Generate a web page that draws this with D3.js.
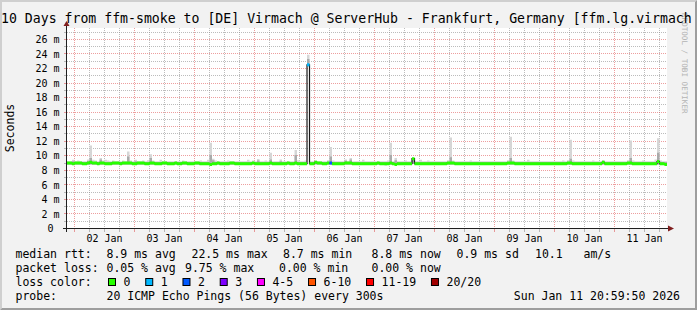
<!DOCTYPE html>
<html>
<head>
<meta charset="utf-8">
<script src="https://cdn.jsdelivr.net/npm/d3@7"></script>
<style>
  body { margin: 0; background: #f2f2f2; }
  svg { display: block; }
  text { font-family: "DejaVu Sans Mono", monospace; white-space: pre; fill: #000; }
</style>
</head>
<body>
<div id="vis"></div>
<script>
// hourly medians (ms), Jan 1 21:00 .. Jan 11 20:00
var median = [
  9.0,9.0,8.9,9.0,9.0,9.0,8.9,8.9,9.0,9.1,9.0,9.0,8.9,9.0,9.0,8.9,8.9,8.9,9.0,9.0,9.0,8.9,9.0,9.0,
  9.0,9.0,8.9,8.9,9.0,9.0,9.0,8.9,8.9,9.0,9.0,8.9,8.9,8.9,9.0,9.0,8.9,8.9,8.9,9.0,8.9,8.9,9.0,9.0,
  8.9,8.9,8.9,9.0,9.0,8.9,8.9,8.9,8.9,8.8,8.9,8.9,9.0,8.9,8.9,8.9,8.9,9.0,9.0,8.9,8.9,8.9,8.9,8.9,
  8.9,8.9,9.0,8.9,8.9,8.9,8.9,8.9,8.9,9.0,8.9,8.9,8.9,8.9,8.9,8.9,9.0,8.9,8.9,9.0,8.9,8.9,8.9,8.9,
  22.5,8.9,8.9,9.1,9.0,9.0,8.9,8.9,9.0,9.0,8.9,8.9,8.9,8.9,8.9,9.0,9.0,9.0,8.9,8.9,8.9,8.9,8.9,8.9,
  8.9,8.9,8.9,8.9,9.0,8.9,8.9,8.9,8.9,9.0,8.9,8.8,8.9,8.9,8.9,8.9,8.9,8.9,9.6,8.9,8.9,8.9,8.9,8.9,
  8.9,8.9,8.9,8.9,8.9,8.9,8.9,8.9,9.0,9.0,9.0,8.9,8.9,8.9,8.9,8.9,8.9,8.9,8.9,8.9,8.9,8.9,8.9,8.9,
  8.9,8.9,8.9,8.9,8.9,8.9,8.9,8.9,9.0,9.0,9.0,8.9,8.9,8.9,8.9,8.9,8.9,8.9,8.9,8.9,8.9,8.9,8.9,8.9,
  8.9,8.9,8.9,8.9,8.9,8.9,8.9,8.9,9.0,9.0,8.9,8.9,8.9,8.9,8.9,8.9,8.9,8.9,8.9,8.9,8.9,8.9,9.1,8.9,
  8.9,8.9,8.9,8.9,8.9,8.9,8.9,8.9,9.0,9.0,8.9,8.9,8.9,8.9,8.9,8.9,8.9,8.9,8.9,8.9,9.2,8.9,8.9,8.8
];
// smoke: slowest ping per hour
var smokeMax = [
  9.25,9.25,9.45,9.25,9.35,9.25,9.25,9.25,9.5,11.4,9.45,9.35,9.25,9.7,9.35,9.45,9.35,9.25,9.35,9.25,9.25,9.25,9.35,9.25,
  10.6,9.35,9.25,9.45,9.25,9.25,9.35,9.25,9.4,10.2,9.35,9.25,9.25,9.45,9.25,9.25,9.25,9.25,9.25,9.25,9.25,9.25,9.35,9.25,
  9.25,9.25,9.25,9.25,9.25,9.35,9.25,9.25,9.45,11.8,9.6,9.35,9.25,9.25,9.25,9.25,9.35,9.25,9.25,9.25,9.25,9.25,9.25,9.25,
  9.45,9.25,9.35,9.25,9.55,9.25,9.25,9.35,9.25,10.4,9.25,9.25,9.25,9.5,9.25,9.25,9.25,9.25,9.25,10.8,9.4,9.25,9.25,9.35,
  23.9,9.25,9.25,9.35,9.25,9.25,9.25,9.25,9.4,11.2,9.35,9.25,9.25,9.25,9.25,9.5,9.25,9.7,9.25,9.25,9.25,9.25,9.45,9.25,
  9.25,9.25,9.25,9.25,9.25,9.25,9.25,9.25,9.35,11.8,9.25,9.7,9.25,9.25,9.25,9.35,9.25,9.25,9.7,9.25,9.25,9.45,9.25,9.25,
  9.35,9.25,9.25,9.25,9.25,9.25,9.25,9.25,9.4,12.5,9.35,9.25,9.25,9.25,9.25,9.25,9.25,9.35,9.25,9.25,9.25,9.25,9.25,9.25,
  9.25,9.25,9.25,9.25,9.25,9.25,9.25,9.25,9.4,12.6,9.35,9.25,9.25,9.25,9.25,9.25,9.45,9.25,9.25,9.25,9.25,9.25,9.25,9.25,
  9.25,9.25,9.25,9.25,9.25,9.25,9.35,9.25,9.4,12.2,9.35,9.25,9.25,9.25,9.25,9.25,9.25,9.25,9.35,9.25,9.25,9.25,9.35,9.25,
  9.25,9.25,9.25,9.25,9.25,9.25,9.25,9.25,9.4,12.1,9.35,9.25,9.25,9.25,9.35,9.25,9.25,9.25,9.25,9.5,12.4,9.35,9.25,9.25
];
// smoke: upper edge of the dense part
var smokeMid = [
  9.15,9.15,9.25,9.15,9.15,9.15,9.15,9.15,9.25,9.7,9.15,9.15,9.15,9.5,9.15,9.15,9.15,9.15,9.15,9.15,9.15,9.15,9.15,9.15,
  9.9,9.15,9.15,9.25,9.15,9.15,9.15,9.15,9.15,9.7,9.15,9.15,9.15,9.15,9.15,9.15,9.15,9.15,9.15,9.15,9.15,9.15,9.15,9.15,
  9.15,9.15,9.15,9.15,9.15,9.15,9.15,9.15,9.15,10.1,9.4,9.15,9.15,9.15,9.15,9.15,9.15,9.15,9.15,9.15,9.15,9.15,9.15,9.15,
  9.15,9.15,9.15,9.15,9.35,9.15,9.15,9.15,9.15,9.5,9.15,9.15,9.15,9.25,9.15,9.15,9.15,9.15,9.15,10.1,9.15,9.15,9.15,9.15,
  23.3,9.15,9.15,9.25,9.15,9.15,9.15,9.15,9.15,9.9,9.15,9.15,9.15,9.15,9.15,9.3,9.15,9.5,9.15,9.15,9.15,9.15,9.15,9.15,
  9.15,9.15,9.15,9.15,9.15,9.15,9.15,9.15,9.15,10.1,9.15,9.4,9.15,9.15,9.15,9.15,9.15,9.15,9.7,9.15,9.15,9.15,9.15,9.15,
  9.15,9.15,9.15,9.15,9.15,9.15,9.15,9.15,9.15,9.8,9.15,9.15,9.15,9.15,9.15,9.15,9.15,9.15,9.15,9.15,9.15,9.15,9.15,9.15,
  9.15,9.15,9.15,9.15,9.15,9.15,9.15,9.15,9.15,9.7,9.15,9.15,9.15,9.15,9.15,9.15,9.15,9.15,9.15,9.15,9.15,9.15,9.15,9.15,
  9.15,9.15,9.15,9.15,9.15,9.15,9.15,9.15,9.15,9.6,9.15,9.15,9.15,9.15,9.15,9.15,9.15,9.15,9.15,9.15,9.15,9.15,9.3,9.15,
  9.15,9.15,9.15,9.15,9.15,9.15,9.15,9.15,9.15,9.7,9.15,9.15,9.15,9.15,9.15,9.15,9.15,9.15,9.15,9.15,10.4,9.15,9.15,9.15
];
// smoke: fastest ping per hour
var smokeMin = [
  8.8,8.8,8.8,8.8,8.8,8.8,8.8,8.8,8.8,8.8,8.8,8.8,8.8,8.8,8.8,8.8,8.8,8.8,8.8,8.8,8.8,8.8,8.8,8.8,
  8.8,8.8,8.8,8.8,8.8,8.8,8.8,8.8,8.8,8.8,8.8,8.8,8.8,8.8,8.8,8.8,8.8,8.8,8.8,8.8,8.8,8.8,8.8,8.8,
  8.8,8.8,8.8,8.8,8.8,8.8,8.8,8.8,8.8,8.7,8.8,8.8,8.8,8.8,8.8,8.8,8.8,8.8,8.8,8.8,8.8,8.8,8.8,8.8,
  8.8,8.8,8.8,8.8,8.8,8.8,8.8,8.8,8.8,8.8,8.8,8.8,8.8,8.8,8.8,8.8,8.8,8.8,8.8,8.8,8.8,8.8,8.8,8.8,
  22.3,8.8,8.8,8.8,8.8,8.8,8.8,8.8,8.8,8.8,8.8,8.8,8.8,8.8,8.8,8.8,8.8,8.8,8.8,8.8,8.8,8.8,8.8,8.8,
  8.8,8.8,8.8,8.8,8.8,8.8,8.8,8.7,8.8,8.8,8.8,8.8,8.8,8.8,8.8,8.8,8.8,8.8,8.9,8.8,8.8,8.8,8.8,8.8,
  8.8,8.8,8.8,8.8,8.8,8.8,8.8,8.8,8.8,8.8,8.8,8.8,8.8,8.8,8.8,8.8,8.8,8.8,8.8,8.8,8.8,8.8,8.8,8.8,
  8.8,8.8,8.8,8.8,8.8,8.8,8.8,8.8,8.8,8.8,8.8,8.8,8.8,8.8,8.8,8.8,8.8,8.8,8.8,8.8,8.8,8.8,8.8,8.8,
  8.8,8.8,8.8,8.8,8.8,8.8,8.8,8.8,8.8,8.8,8.8,8.8,8.8,8.8,8.8,8.8,8.8,8.8,8.8,8.8,8.8,8.8,8.8,8.8,
  8.8,8.8,8.8,8.8,8.8,8.8,8.8,8.8,8.8,8.8,8.8,8.8,8.8,8.8,8.8,8.8,8.8,8.8,8.8,8.8,8.8,8.8,8.8,8.7
];
// hours with lost pings (index into the hourly arrays) and pings lost out of 20
var lossHours = [96, 105];
var lossCounts = [1, 2];

var lossLabels = ['0', '1', '2', '3', '4-5', '6-10', '11-19', '20/20'];
var lossColors = ['#26ff00', '#00b8ff', '#0059ff', '#7e00ff', '#ff00ff', '#ff5500', '#ff0000', '#a10000'];

var statRtt = ['8.9 ms avg', '22.5 ms max', '8.7 ms min', '8.8 ms now', '0.9 ms sd', '10.1   am/s'];
var statLoss = ['0.05 % avg', '9.75 % max', '0.00 % min', '0.00 % now'];
var probeText = '20 ICMP Echo Pings (56 Bytes) every 300s';
var stampText = 'Sun Jan 11 20:59:50 2026';
var titleText = '10 Days from ffm-smoke to [DE] Virmach @ ServerHub - Frankfurt, Germany [ffm.lg.virmach';

var W = 697, H = 310;
var plotL = 67, plotR = 667, plotT = 28, plotB = 228.5;

var startT = new Date(2026, 0, 1, 20, 59, 50);
var endT = new Date(2026, 0, 11, 20, 59, 50);
var firstHour = new Date(2026, 0, 1, 21, 0, 0);

var x = d3.scaleTime().domain([startT, endT]).range([plotL, plotR]);
var y = d3.scaleLinear().domain([0, 27.5]).range([plotB, plotB - 200]);

function bucket(n) {
  if (n <= 3) return n;
  if (n <= 5) return 4;
  if (n <= 10) return 5;
  if (n <= 19) return 6;
  return 7;
}

var pts = median.map(function (m, i) {
  return { t: d3.timeHour.offset(firstHour, i), t1: d3.timeHour.offset(firstHour, i + 1),
           med: m, lo: smokeMin[i], mid: smokeMid[i], hi: smokeMax[i], loss: 0 };
});
lossHours.forEach(function (h, j) { pts[h].loss = lossCounts[j]; });
var last = pts[pts.length - 1];
var stepPts = pts.concat([{ t: last.t1, med: last.med, lo: last.lo, mid: last.mid, hi: last.hi }]);

var svg = d3.select('#vis').append('svg').attr('width', W).attr('height', H);

// background + 3d border
svg.append('rect').attr('width', W).attr('height', H).attr('fill', '#f2f2f2');
svg.append('polygon').attr('fill', '#cfcfcf')
  .attr('points', [[0,0],[0,H],[2,H-2],[2,2],[W-2,2],[W,0]].join(' '));
svg.append('polygon').attr('fill', '#9e9e9e')
  .attr('points', [[0,H],[W,H],[W,0],[W-2,2],[W-2,H-2],[2,H-2]].join(' '));

// canvas
svg.append('rect').attr('x', plotL).attr('y', plotT).attr('width', plotR - plotL).attr('height', plotB - plotT)
  .attr('fill', '#fff');

svg.append('clipPath').attr('id', 'plot').append('rect')
  .attr('x', plotL).attr('y', plotT).attr('width', plotR - plotL).attr('height', plotB - plotT);

function crisp(v) { return Math.round(v - 0.5) + 0.5; }

// grid
var grid = svg.append('g').attr('shape-rendering', 'crispEdges');
var minorT = d3.timeHour.every(6).range(startT, endT).filter(function (d) { return d.getHours() !== 0; });
var majorT = d3.timeDay.range(startT, endT);
var yMinor = d3.range(1, 28).filter(function (v) { return v % 2; });
var yMajor = d3.range(2, 28, 2);

var minorCol = 'rgba(143,143,143,0.6)', majorCol = 'rgba(222,79,79,0.55)';

grid.selectAll('.vmin').data(minorT).enter().append('line')
  .attr('x1', function (d) { return crisp(x(d)); }).attr('x2', function (d) { return crisp(x(d)); })
  .attr('y1', plotT).attr('y2', plotB).attr('stroke', minorCol).attr('stroke-dasharray', '1,1');
grid.selectAll('.hmin').data(yMinor).enter().append('line')
  .attr('y1', function (d) { return crisp(y(d)); }).attr('y2', function (d) { return crisp(y(d)); })
  .attr('x1', plotL).attr('x2', plotR).attr('stroke', minorCol).attr('stroke-dasharray', '1,1');
grid.selectAll('.vmaj').data(majorT).enter().append('line')
  .attr('x1', function (d) { return crisp(x(d)); }).attr('x2', function (d) { return crisp(x(d)); })
  .attr('y1', plotT).attr('y2', plotB).attr('stroke', majorCol).attr('stroke-dasharray', '1,1');
grid.selectAll('.hmaj').data(yMajor).enter().append('line')
  .attr('y1', function (d) { return crisp(y(d)); }).attr('y2', function (d) { return crisp(y(d)); })
  .attr('x1', plotL).attr('x2', plotR).attr('stroke', majorCol).attr('stroke-dasharray', '1,1');

// tick stubs
grid.selectAll('.tx').data(minorT.concat(majorT)).enter().append('line')
  .attr('x1', function (d) { return crisp(x(d)); }).attr('x2', function (d) { return crisp(x(d)); })
  .attr('y1', plotB).attr('y2', plotB + 3)
  .attr('stroke', function (d) { return d.getHours() === 0 ? majorCol : minorCol; });
grid.selectAll('.ty').data(d3.range(1, 28)).enter().append('line')
  .attr('y1', function (d) { return crisp(y(d)); }).attr('y2', function (d) { return crisp(y(d)); })
  .attr('x1', plotL - 3).attr('x2', plotL)
  .attr('stroke', function (d) { return d % 2 ? minorCol : majorCol; });

// smoke
var plot = svg.append('g').attr('clip-path', 'url(#plot)');
plot.append('path').datum(stepPts)
  .attr('fill', '#d6d6d6')
  .attr('d', d3.area().curve(d3.curveStepAfter)
    .x(function (d) { return x(d.t); })
    .y0(function (d) { return y(d.lo); })
    .y1(function (d) { return y(d.hi); }));
plot.append('path').datum(stepPts)
  .attr('fill', '#aaaaaa')
  .attr('d', d3.area().curve(d3.curveStepAfter)
    .x(function (d) { return x(d.t); })
    .y0(function (d) { return y(d.lo); })
    .y1(function (d) { return y(d.mid); }));

// median: thin dark step line, then loss coloured segments
plot.append('path').datum(stepPts)
  .attr('fill', 'none').attr('stroke', '#1a1a1a').attr('stroke-width', 1.2)
  .attr('d', d3.line().curve(d3.curveStepAfter)
    .x(function (d) { return x(d.t); })
    .y(function (d) { return y(d.med); }));

lossColors.forEach(function (col, b) {
  var seg = pts.filter(function (d) { return bucket(d.loss) === b; });
  if (!seg.length) return;
  var p = d3.path();
  seg.forEach(function (d) {
    p.moveTo(x(d.t), y(d.med));
    p.lineTo(x(d.t1), y(d.med));
  });
  plot.append('path').attr('d', p.toString())
    .attr('fill', 'none').attr('stroke', col).attr('stroke-width', 3);
});

// axes
svg.append('line').attr('x1', plotL - 0.5).attr('x2', plotL - 0.5).attr('y1', plotB + 3).attr('y2', plotT - 4)
  .attr('stroke', '#1f1f1f').attr('shape-rendering', 'crispEdges');
svg.append('line').attr('x1', plotL - 4).attr('x2', plotR + 2).attr('y1', plotB).attr('y2', plotB)
  .attr('stroke', '#1f1f1f').attr('shape-rendering', 'crispEdges');
svg.append('polygon').attr('fill', '#801f1f')
  .attr('points', [[plotL - 3.5, plotT - 2], [plotL + 2.5, plotT - 2], [plotL - 0.5, plotT - 7]].join(' '));
svg.append('polygon').attr('fill', '#801f1f')
  .attr('points', [[plotR + 1, plotB - 3], [plotR + 1, plotB + 3], [plotR + 7, plotB]].join(' '));

// axis labels
svg.selectAll('.ylab').data(d3.range(0, 27, 2)).enter().append('text')
  .attr('x', function (d) { return d === 0 ? 53.5 : 59.5; })
  .attr('y', function (d) { return y(d) + 3.7; })
  .attr('text-anchor', 'end').style('font-size', '10px')
  .text(function (d) { return d === 0 ? '0' : d + ' m'; });

svg.selectAll('.xlab').data(d3.timeDay.range(new Date(2026, 0, 2), new Date(2026, 0, 12))).enter().append('text')
  .attr('x', function (d) { return x(d3.timeHour.offset(d, 12)); })
  .attr('y', 241.5).attr('text-anchor', 'middle').style('font-size', '10px')
  .text(d3.timeFormat('%d %b'));

svg.append('text').attr('transform', 'translate(14,128) rotate(-90)')
  .attr('text-anchor', 'middle').style('font-size', '11.5px').text('Seconds');

svg.append('text').attr('transform', 'translate(682,13) rotate(90)')
  .style('font-size', '7.6px').style('fill', '#b4b4b4').text('RRDTOOL / TOBI OETIKER');

// title
svg.append('text').attr('x', 1).attr('y', 23).style('font-size', '13.2px').text(titleText);

// legend
var lg = svg.append('g').style('font-size', '11.5px');
var rowY = [257.7, 271.7, 285.7, 299.7];
lg.append('text').attr('x', 15.5).attr('y', rowY[0]).text('median rtt:');
lg.append('text').attr('x', 15.5).attr('y', rowY[1]).text('packet loss:');
lg.append('text').attr('x', 15.5).attr('y', rowY[2]).text('loss color:');
lg.append('text').attr('x', 15.5).attr('y', rowY[3]).text('probe:');

var rttX = [106.5, 191.5, 283, 371.5, 456.5, 535];
statRtt.forEach(function (s, i) { lg.append('text').attr('x', rttX[i]).attr('y', rowY[0]).text(s); });
var lossX = [106.5, 185, 279, 371.5];
statLoss.forEach(function (s, i) { lg.append('text').attr('x', lossX[i]).attr('y', rowY[1]).text(s); });

var bx = 108.5;
lossLabels.forEach(function (s, i) {
  lg.append('rect').attr('x', bx).attr('y', rowY[2] - 7.2).attr('width', 7).attr('height', 7)
    .attr('fill', lossColors[i]).attr('stroke', '#000').attr('stroke-width', 1);
  var t = lg.append('text').attr('x', bx + 15).attr('y', rowY[2]).text(s);
  bx = bx + 15 + t.node().getComputedTextLength() + 15.3;
});

lg.append('text').attr('x', 106.5).attr('y', rowY[3]).text(probeText);
lg.append('text').attr('x', 680).attr('y', rowY[3]).attr('text-anchor', 'end').text(stampText);
</script>
</body>
</html>
